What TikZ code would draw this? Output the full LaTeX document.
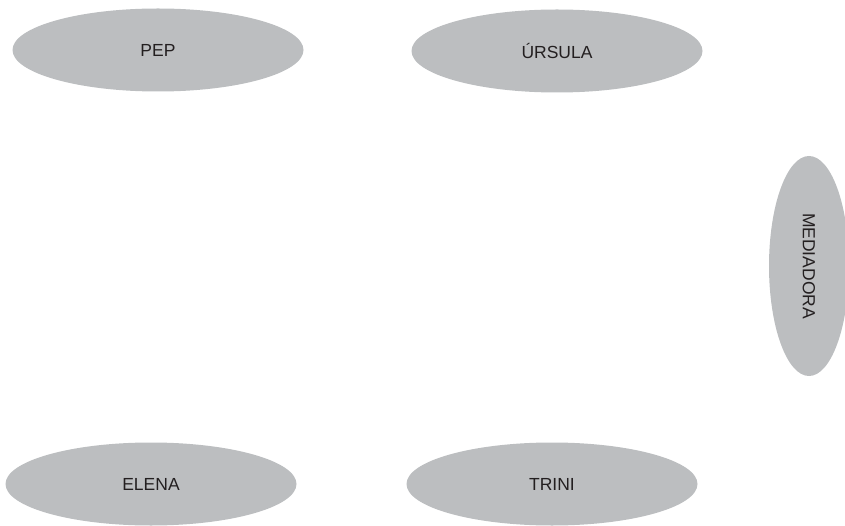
\documentclass[tikz,border=0pt]{standalone}
\usepackage{fontspec}
\setmainfont{Liberation Sans}
\usetikzlibrary{shapes.geometric}
\definecolor{grisclar}{HTML}{BCBEC0}
\definecolor{negre}{HTML}{231F20}

\begin{document}
\begin{tikzpicture}[x=1pt, y=-1pt,
    persona/.style = {ellipse, fill=grisclar, inner sep=0pt, text=negre,
        minimum width=291pt, minimum height=83pt, font=\fontsize{17.5}{20}\selectfont}]
    \useasboundingbox (0,0) rectangle (845,526);
    \node[persona] (P) at (158,50) {PEP};
    \node[persona] (U) at (557,51) {ÚRSULA};
    \node[persona] (E) at (151,484) {ELENA};
    \node[persona] (T) at (552,484) {TRINI};
    \node[persona, minimum width=220pt, minimum height=80pt, rotate=-90] (M) at (809,266) {MEDIADORA};
\end{tikzpicture}
\end{document}
